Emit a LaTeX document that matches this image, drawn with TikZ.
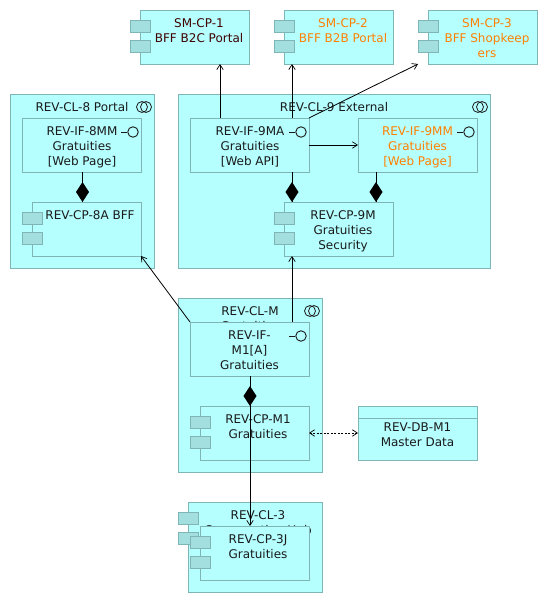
\documentclass[tikz,border=0pt]{standalone}
\usepackage{fontspec}
\setmainfont{DejaVu Sans}
\usetikzlibrary{arrows.meta}
\definecolor{fillc}{HTML}{B5FFFF}
\definecolor{edgec}{HTML}{7FB5B5}
\definecolor{lugc}{HTML}{A3DFDF}
\definecolor{orangec}{HTML}{FF8000}
\definecolor{inkc}{HTML}{1A1A1A}
\definecolor{maroonc}{HTML}{400000}
\tikzset{
  x=1pt,y=-1pt,
  boxnode/.style={draw=edgec,fill=fillc,line width=1pt,inner sep=0pt,outer sep=0pt,anchor=north west},
  lugnode/.style={draw=edgec,fill=lugc,line width=1pt,inner sep=0pt,outer sep=0pt,anchor=north west,minimum width=20pt,minimum height=12pt},
  txt/.style={inner sep=0pt,outer sep=0pt,anchor=north,align=center,text=inkc,font=\fontsize{12}{15}\selectfont},
  hot/.style={txt,text=orangec},
  link/.style={draw=black,line width=0.9pt,-{Straight Barb[length=5pt,width=6.5pt,line width=0.7pt]}},
  dlink/.style={draw=black,line width=0.7pt,dash pattern=on 2pt off 1.5pt,{Straight Barb[length=5pt,width=6.5pt,line width=0.7pt]}-{Straight Barb[length=5pt,width=6.5pt,line width=0.7pt]}},
  comp/.style={draw=black,line width=0.9pt},
  ringa/.style={draw=inkc,line width=0.8pt,circle,minimum size=11pt,inner sep=0pt},
}
% name, x1, y1, x2, y2
\newcommand{\bx}[5]{\node[boxnode,minimum width=#4pt-#2pt,minimum height=#5pt-#3pt] (#1) at (#2,#3) {};}
% component: box and two lugs, the lugs sticking out 10 to the left
\newcommand{\cmp}[5]{\bx{#1}{#2}{#3}{#4}{#5}%
  \node[lugnode] (#1l1) at (#2-10,#3+10) {};%
  \node[lugnode] (#1l2) at (#2-10,#3+30) {};}
% grouping icon: two rings
\newcommand{\rings}[3]{\node[ringa] (#1a) at (#2-2,#3) {};\node[ringa] (#1b) at (#2+2,#3) {};}
% interface icon: stub and ring
\newcommand{\lolly}[3]{\node[draw=inkc,line width=0.9pt,circle,minimum size=10.5pt,inner sep=0pt] (#1) at (#2,#3) {};\draw[line width=0.8pt,inkc] (#1.west) -- ++(-6,0);}
% composition diamond
\newcommand{\dia}[4]{\coordinate (#1) at (#2,#3);\fill[black] (#2,#3) -- (#2+6.5,#3-10) -- (#2,#3-20) -- (#2-6.5,#3-10) -- cycle;}
\begin{document}
\begin{tikzpicture}
\useasboundingbox (0,0) rectangle (548,603);
\fill[white] (0,0) rectangle (548,603);

% top row
\cmp{smone}{140}{10}{249}{64}
\node[txt,text=maroonc] (smonet) at (199,18.5) {SM-CP-1\\BFF B2C Portal};
\cmp{smtwo}{284}{10}{393}{64}
\node[hot] (smtwot) at (343,18.5) {SM-CP-2\\BFF B2B Portal};
\cmp{smthree}{428}{10}{537}{64}
\node[hot] (smthreet) at (487,18.5) {SM-CP-3\\BFF Shopkeep\\ers};

% group 8
\bx{cleight}{10}{94}{154}{268}
\node[txt] (cleightt) at (82,102.5) {REV-CL-8 Portal};
\rings{cleighti}{144}{107}
\bx{ifeight}{22}{118}{141}{172}
\node[txt] (ifeightt) at (82,126.5) {REV-IF-8MM\\Gratuities\\{[Web Page]}};
\lolly{ifeighti}{133}{132}
\cmp{cpeight}{32}{202}{141}{256}
\node[txt] (cpeightt) at (90,210.5) {REV-CP-8A BFF};

% group 9
\bx{clnine}{178}{94}{490}{268}
\node[txt] (clninet) at (334,102.5) {REV-CL-9 External};
\rings{clninei}{480}{107}
\bx{ifma}{190}{118}{309}{172}
\node[txt] (ifmat) at (250,126.5) {REV-IF-9MA\\Gratuities\\{[Web API]}};
\lolly{ifmai}{301}{132}
\bx{ifmm}{358}{118}{477}{172}
\node[hot] (ifmmt) at (417.5,126.5) {REV-IF-9MM\\Gratuities\\{[Web Page]}};
\lolly{ifmmi}{469}{132}
\cmp{cpnine}{284}{202}{393}{256}
\node[txt] (cpninet) at (343,210.5) {REV-CP-9M\\Gratuities\\Security};

% group M
\bx{clm}{178}{298}{322}{472}
\node[txt] (clmt) at (250,306.5) {REV-CL-M\\Gratuities};
\rings{clmi}{312}{311}
\bx{ifm}{190}{322}{309}{376}
\node[txt] (ifmt) at (249.5,330.5) {REV-IF-\\M1[A]\\Gratuities};
\lolly{ifmi}{301}{336}
\cmp{cpm}{200}{406}{309}{460}
\node[txt] (cpmt) at (258,414.5) {REV-CP-M1\\Gratuities};

% data object
\bx{db}{358}{406}{477}{460}
\draw[draw=edgec,line width=1pt] (db.north west |- 0,418) -- (db.north east |- 0,418);
\node[txt] (dbt) at (417.5,422.5) {REV-DB-M1\\Master Data};

% group 3
\cmp{clthree}{188}{502}{322}{592}
\node[txt] (clthreet) at (258,510.5) {REV-CL-3\\Conversation Hub};
\cmp{cpj}{200}{526}{309}{580}
\node[txt] (cpjt) at (258,534.5) {REV-CP-3J\\Gratuities};

% connectors
\draw[link] (220,0 |- ifma.north) -- (220,0 |- smone.south);
\draw[link] (292,0 |- ifma.north) -- (292,0 |- smtwo.south);
\draw[link,line width=0.8pt] (ifma.north east) -- (smthreel2.south west |- smthree.south);
\draw[link,line width=0.8pt] (ifma.east) -- (ifmm.west);
\draw[link] (292,0 |- ifm.north) -- (292,0 |- cpnine.south);
\draw[link,line width=0.8pt] (ifm.north west) -- (cpeight.south east);
\draw[link] (250,0 |- ifm.south) -- (250,0 |- cpj.north);
\draw[dlink] (cpm.east) -- (db.west);

\draw[comp] (82.5,0 |- ifeight.south) -- (82.5,0 |- cpeight.north);
\dia{deight}{82.5}{202}{}
\draw[comp] (292,0 |- ifma.south) -- (292,0 |- cpnine.north);
\dia{dnineA}{292}{202}{}
\draw[comp] (376,0 |- ifmm.south) -- (376,0 |- cpnine.north);
\dia{dnineB}{376}{202}{}
\draw[comp] (250,0 |- ifm.south) -- (250,0 |- cpm.north);
\dia{dm}{250}{406}{}
\end{tikzpicture}
\end{document}
